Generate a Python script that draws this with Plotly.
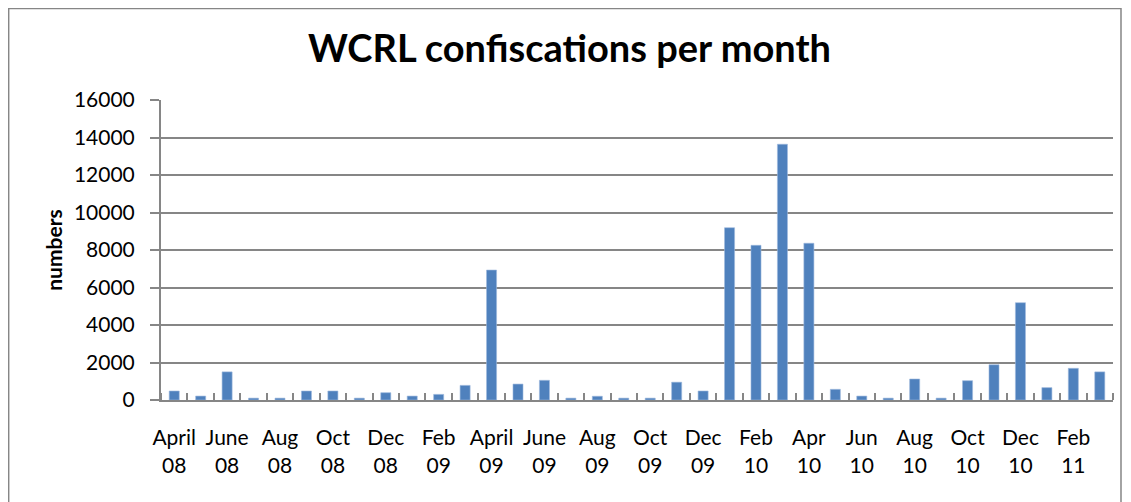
import plotly.graph_objects as go

months = ["April 08","May 08","June 08","July 08","Aug 08","Sep 08","Oct 08","Nov 08","Dec 08","Jan 09","Feb 09","Mar 09",
          "April 09","May 09","June 09","July 09","Aug 09","Sep 09","Oct 09","Nov 09","Dec 09","Jan 10","Feb 10","Mar 10",
          "Apr 10","May 10","Jun 10","Jul 10","Aug 10","Sep 10","Oct 10","Nov 10","Dec 10","Jan 11","Feb 11","Mar 11"]
values = [480, 210, 1500, 100, 100, 480, 480, 100, 390, 210, 300, 780,
          6930, 850, 1050, 100, 200, 100, 100, 950, 480, 9190, 8250, 13640,
          8360, 570, 210, 100, 1120, 100, 1030, 1880, 5190, 660, 1690, 1500]
label_idx = list(range(0, 36, 2))
label_text = ["April<br>08","June<br>08","Aug<br>08","Oct<br>08","Dec<br>08","Feb<br>09","April<br>09","June<br>09","Aug<br>09",
              "Oct<br>09","Dec<br>09","Feb<br>10","Apr<br>10","Jun<br>10","Aug<br>10","Oct<br>10","Dec<br>10","Feb<br>11"]

x = list(range(len(months)))
grey = "#868686"

fig = go.Figure(go.Bar(
    x=x, y=values, width=0.38, customdata=months,
    marker=dict(color="#4F81BD", line=dict(color="#9DB9DD", width=0.6)),
    hovertemplate="%{customdata}: %{y}<extra></extra>",
))

fig.update_layout(
    width=1123, height=494,
    margin=dict(l=153, r=18, t=92, b=102, autoexpand=False),
    paper_bgcolor="white", plot_bgcolor="white",
    showlegend=False,
    font=dict(family="Lato, Open Sans, sans-serif", color="black"),
    title=dict(text="<b>WCRL confiscations per month</b>", x=0.5, xanchor="center",
               y=0.917, yanchor="middle", font=dict(size=38, family="Lato, sans-serif")),
    shapes=[dict(type="rect", xref="paper", yref="paper", x0=-0.1600, x1=1.0084, y0=-0.36, y1=1.305,
                 line=dict(color=grey, width=1.5), fillcolor="rgba(0,0,0,0)", layer="below")],
)

fig.update_xaxes(
    automargin=False,
    range=[-0.5, 35.5], tickmode="array", tickvals=label_idx, ticktext=label_text,
    ticks="", showgrid=False, zeroline=False,
    showline=True, linecolor=grey, linewidth=2,
    tickfont=dict(size=21, family="Lato, sans-serif"), ticklabelstandoff=18,
    minor=dict(tickmode="array", tickvals=[i + 0.5 for i in range(-1, 36)], ticks="inside",
               ticklen=7, tickcolor=grey, tickwidth=2, showgrid=False),
)
fig.update_yaxes(
    automargin=False,
    range=[0, 16000], tickmode="linear", tick0=0, dtick=2000, tickformat="d",
    showgrid=True, gridcolor=grey, gridwidth=1.5, zeroline=False,
    showline=True, linecolor=grey, linewidth=2,
    ticks="outside", ticklen=9, tickcolor=grey, tickwidth=1.5,
    tickfont=dict(size=21, family="Lato, sans-serif"), ticklabelstandoff=11,
    title=dict(text="<b>numbers</b>", font=dict(size=21, family="Lato, sans-serif"), standoff=6),
)

fig.write_html("out.html")
